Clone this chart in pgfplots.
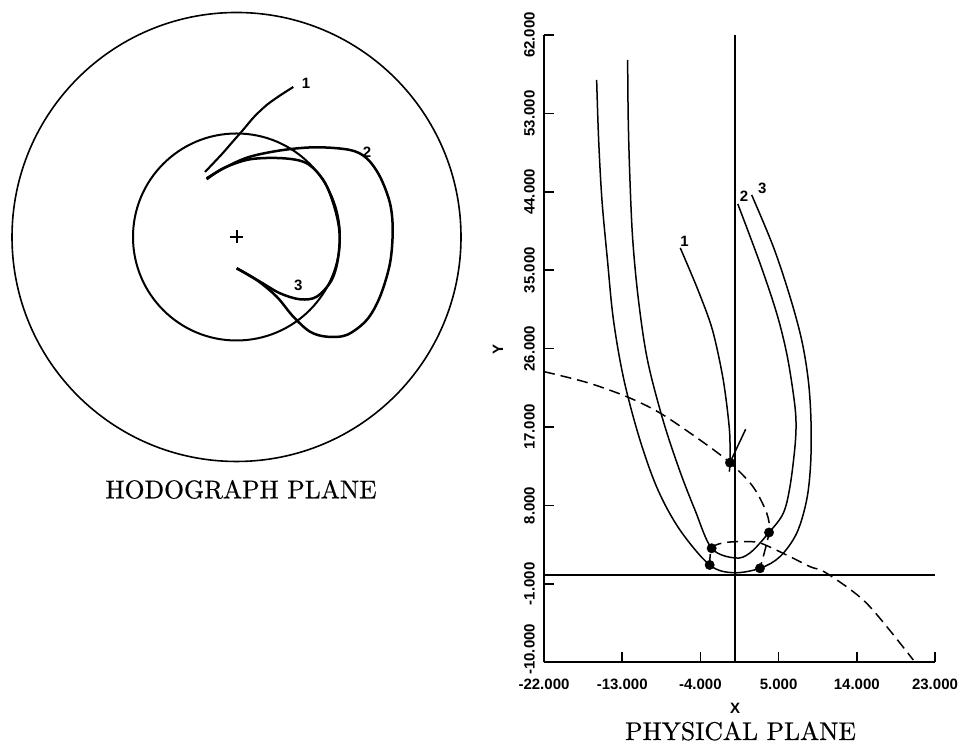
\documentclass[border=0pt]{standalone}
\usepackage{fontspec}
\usepackage{pgfplots}
\pgfplotsset{compat=1.18}
\newfontfamily\labfont{Liberation Sans}
\newfontfamily\titlefont{lmroman10-regular.otf}[FakeBold=0.6]
\newcommand\lab{\labfont\bfseries\fontsize{15}{17}\selectfont}
\begin{document}
\begin{tikzpicture}[x=1pt,y=1pt]
\useasboundingbox (0,0) rectangle (962,751);
% ---------------- HODOGRAPH PLANE ----------------
\begin{axis}[at={(0pt,0pt)}, anchor=south west, scale only axis,
  width=473pt, height=751pt, xmin=-236.5, xmax=236.5, ymin=-514, ymax=237,
  axis lines=none, clip=false]
\draw[line width=1.6pt] (axis cs:0,0) circle[radius=224.5];
\draw[line width=2pt] (axis cs:0,0) circle[radius=103.5];
\addplot[only marks, mark=+, mark size=6.5pt, line width=2pt] coordinates {(0.2,0.3)};
% curve 1
\addplot[line width=2.1pt, smooth] coordinates {
(56.8,150) (43.5,141.5) (30.2,132) (17.5,120) (6.5,107) (-4.5,94.5) (-14.5,83) (-31.5,65)};
% curve 2
\addplot[line width=2.5pt, smooth, tension=0.55] coordinates {
(-29.8,58.7) (-9.8,70.3) (13.5,80.3) (46.8,87) (80.2,89.7) (113.5,87) (130.2,78.7)
(143.5,60.3) (153.5,33.7) (156.2,7) (153.5,-26.3) (143.5,-59.7) (130.2,-83)
(110.2,-98) (90.2,-99.7) (73.5,-94.7) (56.8,-79.7) (40.2,-59.7) (20.2,-43) (0.2,-31.3)};
% curve 3
\addplot[line width=2.5pt, smooth, tension=0.55] coordinates {
(-29.8,57.7) (-13.2,68.7) (13.5,77.7) (46.8,78.7) (70.2,73.7) (86.8,57) (96.8,33.7)
(102.8,7) (101.8,-19.7) (95.2,-43) (80.2,-59.7) (63.5,-62.3) (43.5,-56.3)
(23.5,-44.7) (0.2,-31.3)};
\node[font=\lab] at (axis cs:69.5,153.7) {1};
\node[font=\lab] at (axis cs:130.5,85) {2};
\node[font=\lab] at (axis cs:61.8,-48) {3};
\end{axis}
% ---------------- PHYSICAL PLANE ----------------
\begin{axis}[at={(544pt,88.7pt)}, anchor=south west, scale only axis,
  width=391pt, height=627.3pt,
  xmin=-22000, xmax=23000, ymin=-10000, ymax=62000,
  axis x line*=bottom, axis y line*=left, clip=false,
  scaled ticks=false,
  axis line style={line width=1.9pt},
  tick align=inside, major tick length=10pt,
  tick style={line width=1.7pt, black},
  xtick={-22000,-13000,-4000,5000,14000,23000},
  xticklabels={-22.000,-13.000,-4.000,5.000,14.000,23.000},
  ytick={-10000,-1000,8000,17000,26000,35000,44000,53000,62000},
  yticklabels={\hspace*{26pt}-10.000,-1.000,8.000,17.000,26.000,35.000,44.000,53.000,62.000},
  tick label style={font=\lab},
  xticklabel style={anchor=north, inner sep=0pt, yshift=-17pt},
  yticklabel style={xshift=-9pt, rotate=90, anchor=south, inner sep=0pt}]
% reference lines
\addplot[line width=1.6pt] coordinates {(-22000,0) (23000,0)};
\addplot[line width=1.4pt] coordinates {(0,-10000) (0,62000)};
% trajectory 1
\addplot[line width=1.5pt, smooth] coordinates {
(-6319,37562) (-4282,32740) (-2613,28148) (-1370,22408) (-656,16668) (-599,12914) (-679,11882)};
\addplot[line width=1.5pt] coordinates {(-599,12914) (1209,16748)};
% trajectory 2 (inner)
\addplot[line width=1.5pt, smooth, tension=0.55] coordinates {
(300,42613) (2855,35805) (4777,30065) (5928,25473) (6687,20881) (6998,17816)
(6883,14751) (6307,10159) (5536,7105) (3900,4900)
(1703,2548) (-23,1974) (-2705,3087) (-4627,7484) (-6411,12076) (-8310,17816)
(-10094,24704) (-11130,31592) (-11786,38480) (-12108,45368) (-12304,52256) (-12373,59144)};
% trajectory 3 (outer)
\addplot[line width=1.5pt, smooth, tension=0.55] coordinates {
(1899,43646) (4385,37711) (6307,31971) (7654,27000) (8414,22408) (8725,17816)
(8690,12845) (8230,8632) (7079,4809) (5157,2125) (2855,790)
(-219,280) (-2935,1170) (-6353,5188) (-8885,9780) (-10957,15520) (-12799,22408)
(-14007,29296) (-14698,36184) (-15331,43072) (-15711,49960) (-15941,56848)};
% dashed switching curves
\addplot[line width=1.5pt, dash pattern=on 11pt off 6pt, smooth] coordinates {
(-22000,23361) (-17000,22100) (-12488,20491) (-8655,18620) (-4052,15520) (-599,12914)
(2049,10163) (3626,7140) (3900,4900) (2855,790)};
\addplot[line width=1.5pt, dash pattern=on 11pt off 6pt, smooth] coordinates {
(-2935,1170) (-2705,3087) (-1439,3696) (553,3846) (2855,3696) (6307,2125) (8610,977)
(10532,219) (15136,-3229) (20499,-9735)};
% switching points
\addplot[only marks, mark=*, mark size=4.7pt] coordinates {
(-599,12914) (3900,4900) (2855,790) (-2935,1170) (-2705,3087)};
\node[font=\lab] at (axis cs:-5812,38285) {1};
\node[font=\lab] at (axis cs:1013,43451) {2};
\node[font=\lab] at (axis cs:3119,44415) {3};
\end{axis}
% ---------------- labels ----------------
\node[font=\lab, anchor=base] at (735,37) {X};
\node[font=\lab, rotate=90] at (498,401) {Y};
\node[font=\titlefont\fontsize{25.6}{28}\selectfont, anchor=base] at (241,252.7) {HODOGRAPH PLANE};
\node[font=\titlefont\fontsize{25.6}{28}\selectfont, anchor=base] at (740.5,11) {PHYSICAL PLANE};
\end{tikzpicture}
\end{document}
